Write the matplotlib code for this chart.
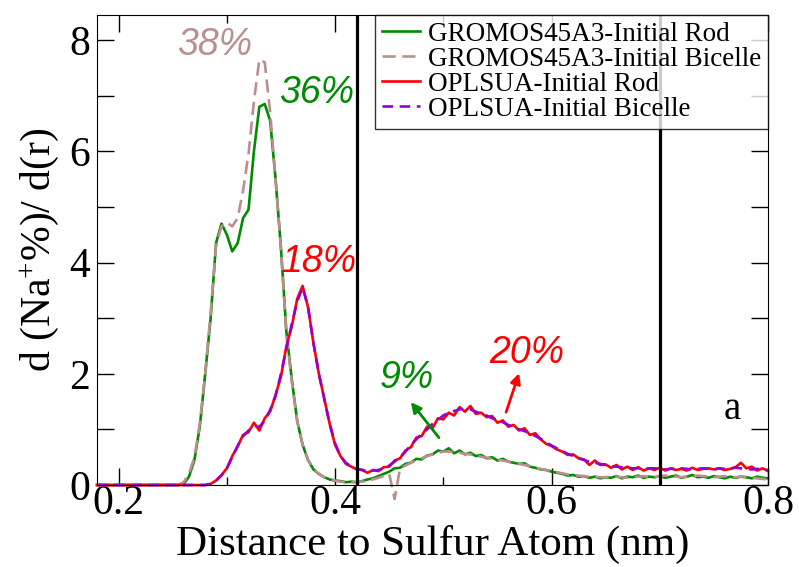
import numpy as np
import matplotlib
matplotlib.use("Agg")
import matplotlib.pyplot as plt
from matplotlib.ticker import MultipleLocator

plt.rcParams["font.family"] = ["Liberation Serif", "DejaVu Serif"]
plt.rcParams["mathtext.fontset"] = "custom"
plt.rcParams["mathtext.rm"] = "Liberation Serif"
plt.rcParams["mathtext.it"] = "Liberation Serif:italic"

# distance grid: 0.18 nm in 0.005 nm steps
x_start = 0.18
x_step = 0.005

# GROMOS45A3 - initial rod (green)
gromos_rod = [0] * 16 + [
    0.02, 0.15, 0.45, 1.05, 2.0, 3.0, 4.35, 4.7, 4.5, 4.2,
    4.35, 4.8, 4.95, 6.0, 6.8, 6.85, 6.55, 5.5, 4.25, 2.75,
    1.9, 1.15, 0.72, 0.45, 0.28, 0.2, 0.14, 0.1, 0.08, 0.07,
    0.05, 0.06, 0.05, 0.07, 0.1, 0.12, 0.16, 0.2, 0.24, 0.3,
    0.31, 0.38, 0.4, 0.47, 0.46, 0.53, 0.55, 0.62, 0.6, 0.66,
    0.57, 0.62, 0.55, 0.58, 0.52, 0.54, 0.48, 0.5, 0.44, 0.47,
    0.42, 0.4, 0.38, 0.39, 0.33, 0.31, 0.28, 0.27, 0.24, 0.22,
    0.2, 0.17, 0.18, 0.15, 0.16, 0.13, 0.15, 0.12, 0.14, 0.13,
    0.16, 0.12, 0.15, 0.14, 0.17, 0.13, 0.15, 0.14, 0.16, 0.13,
    0.15, 0.17, 0.13, 0.15, 0.18, 0.14, 0.15, 0.13, 0.16, 0.14,
    0.12, 0.15, 0.13, 0.15, 0.14, 0.12, 0.15, 0.13, 0.12,
]

# GROMOS45A3 - initial bicelle (brown dashed)
gromos_bicelle = [0] * 16 + [
    0.05, 0.2, 0.5, 1.1, 2.0, 3.1, 4.3, 4.65, 4.72, 4.65,
    4.8, 5.3, 5.95, 6.9, 7.65, 7.6, 6.7, 5.5, 4.25, 2.7,
    1.85, 1.15, 0.72, 0.45, 0.29, 0.2, 0.14, 0.1, 0.08, 0.06,
    0.05, 0.05, 0.05, 0.06, 0.08, 0.1, 0.13, 0.16, 0.2, -0.25,
    0.3, 0.35, 0.4, 0.44, 0.48, 0.52, 0.55, 0.58, 0.6, 0.6,
    0.59, 0.58, 0.56, 0.55, 0.53, 0.51, 0.49, 0.47, 0.45, 0.44,
    0.42, 0.4, 0.38, 0.36, 0.34, 0.31, 0.29, 0.27, 0.25, 0.23,
    0.21, 0.19, 0.18, 0.17, 0.16, 0.15, 0.15, 0.14, 0.14, 0.15,
    0.15, 0.14, 0.13, 0.14, 0.15, 0.16, 0.15, 0.14, 0.16, 0.17,
    0.16, 0.15, 0.14, 0.15, 0.16, 0.17, 0.16, 0.15, 0.14, 0.15,
    0.16, 0.15, 0.14, 0.15, 0.14, 0.13, 0.12, 0.11, 0.1,
]

# OPLSUA - initial rod (red)
oplsua_rod = [0] * 21 + [
    0.02, 0.08, 0.18, 0.3, 0.52, 0.7, 0.9, 0.95, 1.12, 0.98,
    1.2, 1.32, 1.62, 1.95, 2.5, 2.85, 3.35, 3.58, 3.2, 2.55,
    2.0, 1.55, 1.1, 0.72, 0.52, 0.38, 0.33, 0.28, 0.27, 0.22,
    0.27, 0.25, 0.32, 0.33, 0.44, 0.48, 0.62, 0.68, 0.85, 0.88,
    1.05, 1.02, 1.2, 1.18, 1.3, 1.25, 1.4, 1.32, 1.42, 1.28,
    1.3, 1.22, 1.24, 1.12, 1.16, 1.05, 1.08, 0.98, 1.02, 0.9,
    0.93, 0.82, 0.74, 0.7, 0.64, 0.6, 0.54, 0.55, 0.48, 0.46,
    0.36, 0.44, 0.36, 0.37, 0.31, 0.36, 0.28, 0.33, 0.27, 0.32,
    0.26, 0.3, 0.27, 0.31, 0.26, 0.3, 0.27, 0.29, 0.26, 0.31,
    0.27, 0.29, 0.3, 0.28, 0.3, 0.27, 0.29, 0.32, 0.4, 0.3,
    0.33, 0.26, 0.3, 0.25,
]

# OPLSUA - initial bicelle (violet dashed)
oplsua_bicelle = [0] * 21 + [
    0.02, 0.08, 0.17, 0.3, 0.5, 0.7, 0.88, 0.98, 1.05, 1.05,
    1.15, 1.35, 1.6, 2.0, 2.45, 2.9, 3.3, 3.55, 3.2, 2.55,
    2.0, 1.55, 1.1, 0.75, 0.52, 0.4, 0.33, 0.3, 0.27, 0.25,
    0.26, 0.27, 0.3, 0.35, 0.42, 0.5, 0.6, 0.72, 0.82, 0.92,
    1.0, 1.1, 1.17, 1.25, 1.3, 1.33, 1.36, 1.37, 1.36, 1.32,
    1.28, 1.25, 1.2, 1.17, 1.13, 1.08, 1.04, 1.0, 0.97, 0.93,
    0.88, 0.83, 0.77, 0.71, 0.66, 0.61, 0.56, 0.52, 0.48, 0.45,
    0.42, 0.4, 0.38, 0.36, 0.34, 0.33, 0.32, 0.31, 0.3, 0.3,
    0.29, 0.3, 0.3, 0.29, 0.28, 0.29, 0.3, 0.3, 0.29, 0.28,
    0.29, 0.3, 0.29, 0.28, 0.3, 0.29, 0.3, 0.31, 0.3, 0.29,
    0.28, 0.29, 0.28, 0.27,
]

series = [
    ("GROMOS45A3-Initial Rod", gromos_rod, "#008b00", None),
    ("GROMOS45A3-Initial Bicelle", gromos_bicelle, "#bc8f8f", (5, 2.5)),
    ("OPLSUA-Initial Rod", oplsua_rod, "#ff0000", None),
    ("OPLSUA-Initial Bicelle", oplsua_bicelle, "#9400d3", (4, 2.5)),
]

fig = plt.figure(figsize=(7.99, 5.67), dpi=100)
ax = fig.add_axes([0.1214, 0.1446, 0.8398, 0.8289])

for label, vals, color, dash in series:
    xs = x_start + x_step * np.arange(len(vals))
    line, = ax.plot(xs, vals, color=color, lw=1.9, label=label, clip_on=False)
    if dash is not None:
        line.set_dashes(dash)

# shell boundaries
ax.axvline(0.42, color="black", lw=2.3)
ax.axvline(0.70, color="black", lw=2.3)

ax.set_xlim(0.18, 0.80)
ax.set_ylim(0, 8.45)
ax.xaxis.set_major_locator(MultipleLocator(0.2))
ax.xaxis.set_minor_locator(MultipleLocator(0.1))
ax.yaxis.set_major_locator(MultipleLocator(2))
ax.yaxis.set_minor_locator(MultipleLocator(1))
ax.tick_params(which="both", direction="in", top=True, right=True, width=1)
ax.tick_params(which="major", length=12, labelsize=30)
ax.tick_params(axis="x", which="minor", length=6)
ax.tick_params(axis="y", which="minor", length=12)
ax.tick_params(axis="x", pad=-0.5)
ax.tick_params(axis="y", pad=5)

ax.set_xlabel("Distance to Sulfur Atom (nm)", fontsize=31, labelpad=1.5)
ax.set_ylabel("d (Na$^{+}$%)/ d(r)", fontsize=30, labelpad=6)

leg = ax.legend(loc="upper right", bbox_to_anchor=(1.0, 1.0), borderaxespad=0,
                fontsize=19.5, frameon=True, fancybox=False, handlelength=1.4,
                handletextpad=0.3, labelspacing=0.0, borderpad=0.25)
leg.get_frame().set_edgecolor("black")
leg.get_frame().set_linewidth(1.0)

pct = dict(family=["Liberation Sans", "DejaVu Sans"], style="italic",
           fontsize=27, ha="center", va="center")
ax.text(0.289, 7.91, "38%", color="#bc8f8f", **pct)
ax.text(0.383, 7.05, "36%", color="#008b00", **pct)
ax.text(0.385, 4.01, "18%", color="#ff0000", **pct)
ax.text(0.466, 1.92, "9%", color="#008b00", **pct)
ax.text(0.577, 2.38, "20%", color="#ff0000", **pct)

ax.annotate("", xy=(0.470, 1.49), xytext=(0.496, 0.85),
            arrowprops=dict(arrowstyle="-|>", color="#008b00", lw=2,
                            mutation_scale=15, shrinkA=0, shrinkB=0))
ax.annotate("", xy=(0.570, 2.01), xytext=(0.558, 1.31),
            arrowprops=dict(arrowstyle="-|>", color="#ff0000", lw=2,
                            mutation_scale=15, shrinkA=0, shrinkB=0))

ax.text(0.767, 1.35, "a", fontsize=28, ha="center", va="center")

fig.savefig("out.png", dpi=100)
